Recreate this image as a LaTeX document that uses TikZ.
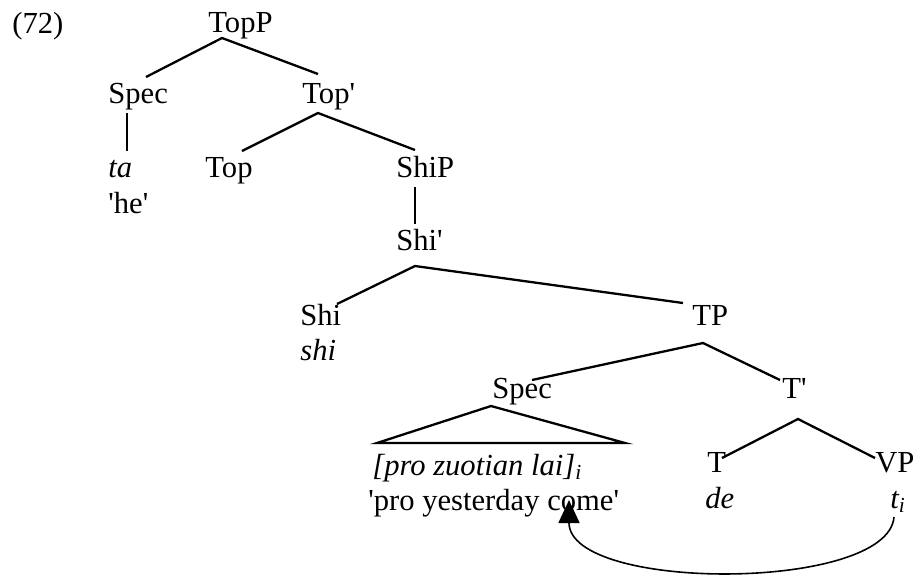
\documentclass[tikz,border=0pt]{standalone}
\usepackage{fontspec}
\setmainfont{Liberation Serif}[Ligatures=TeXOff]
\usepackage{tikz}
\usetikzlibrary{arrows.meta,calc}

\begin{document}
\begin{tikzpicture}[x=0.5pt,y=-0.5pt,
  lab/.style={anchor=base west, inner sep=0pt, font=\fontsize{15.3}{18}\selectfont},
  branch/.style={line width=1.15pt},
  stem/.style={line width=0.7pt},
  move/.style={line width=0.8pt, -{Triangle[width=10.5pt,length=11.5pt]}}]
  \useasboundingbox (0,0) rectangle (917,575);

  % example number
  \node[lab] (ex) at (12,33) {(72)};

  % labels
  \node[lab] (TopP) at (208,32) {TopP};
  \node[lab] (SpecA) at (108,103) {Spec};
  \node[lab] (TopBar) at (302,103) {Top'};
  \node[lab] (ta) at (108,177) {\itshape ta};
  \node[lab] (he) at (108,213) {'he'};
  \node[lab] (Top) at (205,177) {Top};
  \node[lab] (ShiP) at (396,177) {ShiP};
  \node[lab] (ShiBar) at (396,250) {Shi'};
  \node[lab] (Shi) at (300,325) {Shi};
  \node[lab] (shi) at (300,360) {\itshape shi};
  \node[lab] (TP) at (692,325) {TP};
  \node[lab] (SpecB) at (492,398) {Spec};
  \node[lab] (TBar) at (782,398) {T'};
  \node[lab] (pro) at (372,475) {\itshape [pro zuotian lai]\textsubscript{i}};
  \node[lab] (gloss) at (368,510) {'pro yesterday come'};
  \node[lab] (T) at (707,472) {T};
  \node[lab] (VP) at (875,472) {VP};
  \node[lab] (de) at (705,508) {\itshape de};
  \node[lab] (ti) at (890,508) {\itshape t\textsubscript{i}};

  % branches
  \draw[branch] ($(SpecA.base west)+(38,-26)$) -- ($(TopP.base west)+(14,6)$) -- ($(TopBar.base west)+(16,-29)$);
  \draw[stem] ($(SpecA.base west)+(19,10)$) -- ($(ta.base west)+(19,-26)$);
  \draw[branch] ($(Top.base west)+(37,-26)$) -- ($(TopBar.base west)+(16,10)$) -- ($(ShiP.base west)+(19,-27)$);
  \draw[stem] ($(ShiP.base west)+(19,10)$) -- ($(ShiBar.base west)+(19,-26)$);
  \draw[branch] ($(Shi.base west)+(37,-21)$) -- ($(ShiBar.base west)+(19,16)$) -- ($(TP.base west)+(-9,-22)$);
  \draw[branch] ($(SpecB.base west)+(40,-18)$) -- ($(TP.base west)+(11,18)$) -- ($(TBar.base west)+(-2,-18)$);
  \draw[branch] ($(T.base west)+(15,-14)$) -- ($(TBar.base west)+(16,21)$) -- ($(VP.base west)+(0,-14)$);

  % triangle over Spec
  \draw[branch] ($(pro.base west)+(5,-32)$) -- ($(SpecB.base west)+(-1,8)$) -- ($(pro.base west)+(253,-32)$) -- cycle;

  % movement
  \draw[move] ($(ti.base west)+(4,9)$) .. controls +(-6,75) and +(0,92) .. ($(gloss.base west)+(201,-10)$);
\end{tikzpicture}
\end{document}
